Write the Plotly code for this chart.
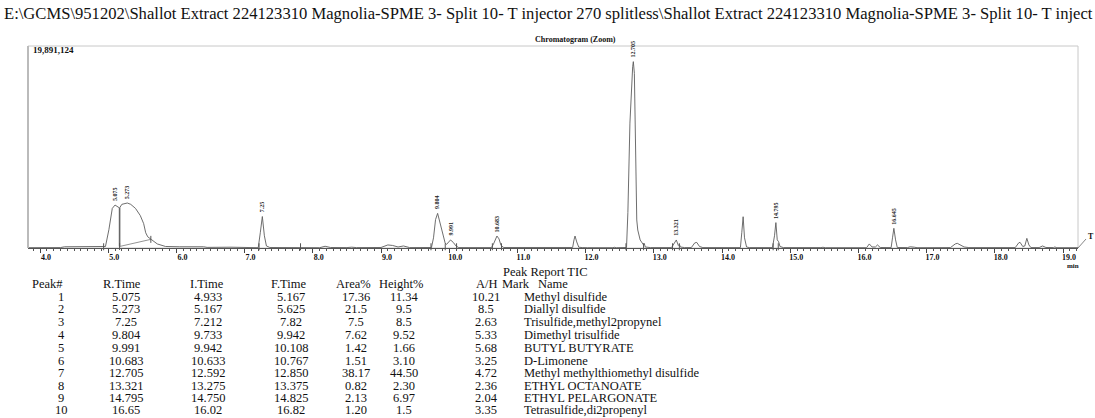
import numpy as np
import plotly.graph_objects as go

# ---------------- data ----------------
full_scale = 19891124  # counts at top of the plot

# chromatogram trace (time in min, intensity in millions of counts)
trace_time = [3.82, 4.30, 4.36, 4.90, 4.96, 5.01, 5.035, 5.06, 5.10, 5.167, 5.20, 5.28,
              5.33, 5.40, 5.47, 5.52, 5.55, 5.58, 5.63, 5.72, 5.84, 6.00, 6.05, 6.40,
              6.45, 6.80, 7.00, 7.20, 7.23, 7.26, 7.29, 7.32, 7.37, 8.10, 8.18, 8.26,
              8.50, 8.57, 8.64, 9.00, 9.10, 9.17, 9.25, 9.33, 9.42, 9.74, 9.77, 9.80,
              9.83, 9.86, 9.90, 9.94, 9.96, 10.00, 10.02, 10.06, 10.10, 10.14, 10.62, 10.65,
              10.70, 10.73, 10.76, 10.80, 11.45, 11.50, 11.55, 11.70, 11.75, 11.79, 11.81, 11.83,
              11.845, 11.87, 11.90, 11.95, 12.00, 12.03, 12.40, 12.42, 12.45, 12.58, 12.60, 12.62,
              12.65, 12.69, 12.70, 12.715, 12.735, 12.75, 12.765, 12.80, 12.85, 12.86, 12.875, 12.95,
              13.26, 13.30, 13.33, 13.36, 13.375, 13.39, 13.45, 13.55, 13.60, 13.63, 13.67, 13.72,
              14.27, 14.29, 14.31, 14.33, 14.36, 14.40, 14.74, 14.77, 14.79, 14.81, 14.83, 14.85,
              14.90, 15.45, 15.48, 15.52, 16.12, 16.16, 16.20, 16.25, 16.28, 16.32, 16.48, 16.50,
              16.52, 16.545, 16.57, 16.72, 16.76, 16.82, 16.86, 17.35, 17.42, 17.45, 17.50, 17.55,
              17.62, 17.87, 17.89, 17.91, 18.30, 18.35, 18.37, 18.41, 18.44, 18.47, 18.50, 18.53,
              18.65, 18.70, 18.75, 18.86, 18.88, 18.91, 19.22]
trace_intensity = [0.03, 0.04, 0.12, 0.12, 0.15, 1.8, 3.1, 3.9, 4.23, 3.94, 4.3, 4.43,
                   4.3, 3.9, 3.2, 2.4, 1.5, 1.1, 0.85, 0.4, 0.15, 0.08, 0.12, 0.12,
                   0.06, 0.08, 0.03, 0.03, 1.5, 3.1, 1.2, 0.2, 0.05, 0.03, 0.17, 0.05,
                   0.04, 0.08, 0.04, 0.05, 0.3, 0.25, 0.1, 0.2, 0.04, 0.05, 1.0, 2.8,
                   3.41, 2.6, 1.3, 0.5, 0.35, 0.7, 0.79, 0.55, 0.2, 0.04, 0.04, 0.4,
                   1.18, 0.9, 0.25, 0.05, 0.03, 0.07, 0.03, 0.04, 0.08, 0.04, 0.05, 0.8,
                   1.18, 0.6, 0.08, 0.04, 0.08, 0.03, 0.03, 0.07, 0.03, 0.04, 0.05, 3.5,
                   12.3, 17.85, 18.35, 17.2, 7.36, 2.76, 1.77, 0.79, 0.3, 0.45, 0.1, 0.04,
                   0.04, 0.4, 0.79, 0.25, 0.35, 0.1, 0.04, 0.04, 0.5, 0.55, 0.15, 0.04,
                   0.04, 1.5, 3.08, 1.0, 0.1, 0.04, 0.04, 1.2, 2.5, 0.8, 0.62, 0.15,
                   0.04, 0.04, 0.07, 0.03, 0.03, 0.4, 0.1, 0.1, 0.3, 0.05, 0.04, 1.0,
                   1.94, 0.8, 0.05, 0.04, 0.12, 0.08, 0.03, 0.04, 0.4, 0.46, 0.3, 0.1,
                   0.04, 0.04, 0.07, 0.03, 0.04, 0.5, 0.56, 0.15, 0.2, 0.95, 0.3, 0.04,
                   0.04, 0.2, 0.05, 0.04, 0.1, 0.03, 0.03]

# peak labels drawn above the apexes
label_time = [5.10, 5.28, 7.26, 9.83, 10.02, 10.70, 12.70, 13.33, 14.79, 16.52]
label_text = ["5.075", "5.273", "7.25", "9.804", "9.991", "10.683", "12.705", "13.321", "14.795", "16.645"]

# integration baseline of the first two peaks (intensity at start / end, millions)
integ_base_intensity = [0.15, 0.85]

# peak report table
peak_no = ["1", "2", "3", "4", "5", "6", "7", "8", "9", "10"]
r_time = ["5.075", "5.273", "7.25", "9.804", "9.991", "10.683", "12.705", "13.321", "14.795", "16.65"]
i_time = ["4.933", "5.167", "7.212", "9.733", "9.942", "10.633", "12.592", "13.275", "14.750", "16.02"]
f_time = ["5.167", "5.625", "7.82", "9.942", "10.108", "10.767", "12.850", "13.375", "14.825", "16.82"]
area_pct = ["17.36", "21.5", "7.5", "7.62", "1.42", "1.51", "38.17", "0.82", "2.13", "1.20"]
height_pct = ["11.34", "9.5", "8.5", "9.52", "1.66", "3.10", "44.50", "2.30", "6.97", "1.5"]
a_over_h = ["10.21", "8.5", "2.63", "5.33", "5.68", "3.25", "4.72", "2.36", "2.04", "3.35"]
names = ["Methyl disulfide", "Diallyl disulfide", "Trisulfide,methyl2propynel",
         "Dimethyl trisulfide", "BUTYL BUTYRATE", "D-Limonene",
         "Methyl methylthiomethyl disulfide", "ETHYL OCTANOATE", "ETHYL PELARGONATE",
         "Tetrasulfide,di2propenyl"]

x_ticks = [4, 5, 6, 7, 8, 9, 10, 11, 12, 13, 14, 15, 16, 17, 18, 19]
x_tick_text = ["4.0", "5.0", "6.0", "7.0", "8.0", "9.0", "10.0", "11.0", "12.0",
               "13.0", "14.0", "15.0", "16.0", "17.0", "18.0", "19.0"]

title_text = ("E:\\GCMS\\951202\\Shallot Extract 224123310 Magnolia-SPME 3- Split 10- T injector 270 "
              "splitless\\Shallot Extract 224123310 Magnolia-SPME 3- Split 10- T inject")

# ---------------- layout helpers ----------------
W, H = 1095, 418
L, R, T, B = 28, 1078, 46, 248  # plot area in pixels
SERIF = "Liberation Serif, Times New Roman, serif"


def px(x):
    return (x - L) / (R - L)


def py(y):
    return (B - y) / (B - T)


fig = go.Figure()

# chromatogram
fig.add_trace(go.Scatter(x=trace_time, y=trace_intensity, mode="lines",
                         line=dict(color="#5e5e5e", width=0.9), hoverinfo="skip", showlegend=False))

# integration drop line + baseline for peaks 1/2
t_split = float(i_time[1])
t_end = float(f_time[1])
valley = float(np.interp(t_split, trace_time, trace_intensity))
fig.add_trace(go.Scatter(x=[t_split, t_split], y=[integ_base_intensity[0], valley], mode="lines",
                         line=dict(color="#666666", width=1.6), hoverinfo="skip", showlegend=False))
fig.add_trace(go.Scatter(x=[t_split, t_end], y=integ_base_intensity, mode="lines",
                         line=dict(color="#777777", width=0.8), hoverinfo="skip", showlegend=False))

# integration start/end ticks
mark_t = sorted(set([float(v) for v in i_time[:9]] + [float(v) for v in f_time[:9]]))
mark_y = [float(np.interp(t, [t_split, t_end], integ_base_intensity)) if t_split <= t <= t_end else 0.12
          for t in mark_t]
fig.add_trace(go.Scatter(x=mark_t, y=mark_y, mode="markers",
                         marker=dict(symbol="line-ns", size=5, line=dict(color="#555555", width=1)),
                         hoverinfo="skip", showlegend=False, cliponaxis=False))

annotations = []
# peak labels
for t, s in zip(label_time, label_text):
    yv = float(np.interp(t, trace_time, trace_intensity))
    annotations.append(dict(x=t, y=yv, xref="x", yref="y", text="<b>" + s + "</b>", showarrow=False,
                            textangle=-90, yanchor="bottom", xanchor="center", yshift=2,
                            font=dict(family=SERIF, size=6, color="#222222")))

# title & misc text
annotations += [
    dict(x=px(2), y=py(13), xref="paper", yref="paper", text=title_text, showarrow=False,
         xanchor="left", yanchor="middle", font=dict(family=SERIF, size=16.6, color="#111111")),
    dict(x=px(575), y=py(40), xref="paper", yref="paper", text="<b>Chromatogram (Zoom)</b>",
         showarrow=False, xanchor="center", yanchor="middle",
         font=dict(family=SERIF, size=8, color="#111111")),
    dict(x=px(31), y=py(50), xref="paper", yref="paper", text="<b>19,891,124</b>",
         showarrow=False, xanchor="left", yanchor="middle",
         font=dict(family=SERIF, size=9, color="#111111")),
    dict(x=px(1073), y=py(266), xref="paper", yref="paper", text="<b>min</b>",
         showarrow=False, xanchor="center", yanchor="middle",
         font=dict(family=SERIF, size=7, color="#111111")),
    dict(x=px(1091), y=py(236), xref="paper", yref="paper", text="<b>T</b>",
         showarrow=False, xanchor="center", yanchor="middle",
         font=dict(family=SERIF, size=8, color="#111111")),
]

# peak report table
tfont = dict(family=SERIF, size=12.5, color="#111111")
annotations.append(dict(x=px(545), y=py(271.5), xref="paper", yref="paper", text="Peak Report TIC",
                        showarrow=False, xanchor="center", yanchor="middle", font=tfont))
headers = [("Peak#", 30, "left"), ("R.Time", 122, "center"), ("I.Time", 207, "center"),
           ("F.Time", 288, "center"), ("Area%", 353, "center"), ("Height%", 401, "center"),
           ("A/H", 487, "center"), ("Mark", 500, "left"), ("Name", 536, "left")]
for txt, xx, anc in headers:
    annotations.append(dict(x=px(xx), y=py(284), xref="paper", yref="paper", text=txt,
                            showarrow=False, xanchor=anc, yanchor="middle", font=tfont))

row_y = [296.5, 309, 322, 335, 348, 361, 373, 386, 398, 410]
columns = [(peak_no, 61, "center"), (r_time, 126, "center"), (i_time, 208, "center"),
           (f_time, 291, "center"), (area_pct, 356, "center"), (height_pct, 404, "center"),
           (a_over_h, 486, "center"), (names, 522, "left")]
for values, xx, anc in columns:
    for v, yy in zip(values, row_y):
        annotations.append(dict(x=px(xx), y=py(yy), xref="paper", yref="paper", text=v,
                                showarrow=False, xanchor=anc, yanchor="middle", font=tfont))

shapes = [
    dict(type="rect", xref="paper", yref="paper", x0=0, y0=0, x1=1, y1=1,
         line=dict(color="#c8c8c8", width=1), layer="below"),
    dict(type="line", xref="paper", yref="paper", x0=0, y0=0, x1=0, y1=1,
         line=dict(color="#bbbbbb", width=2)),
    dict(type="line", xref="paper", yref="paper", x0=1, y0=0, x1=px(1086), y1=py(239),
         line=dict(color="#666666", width=0.8)),
]

fig.update_layout(
    width=W, height=H,
    margin=dict(l=L, r=W - R, t=T, b=H - B),
    paper_bgcolor="white", plot_bgcolor="white",
    showlegend=False,
    annotations=annotations, shapes=shapes,
    xaxis=dict(range=[3.824, 19.22], tickvals=x_ticks, ticktext=x_tick_text,
               ticks="outside", ticklen=4, tickcolor="#444444", tickwidth=1,
               showline=True, linecolor="#555555", linewidth=1, showgrid=False, zeroline=False,
               ticklabelshift=6, ticklabelstandoff=-3,
               tickfont=dict(family=SERIF, size=8, color="#111111", weight="bold"),
               minor=dict(ticks="outside", ticklen=2, dtick=0.1, tick0=4, tickcolor="#555555",
                          showgrid=False)),
    yaxis=dict(range=[0, full_scale / 1e6], showticklabels=False, ticks="", showgrid=False,
               zeroline=False, showline=False),
)

fig.write_html("out.html", config={"displayModeBar": False},
               post_script="document.body.style.margin='0';")
